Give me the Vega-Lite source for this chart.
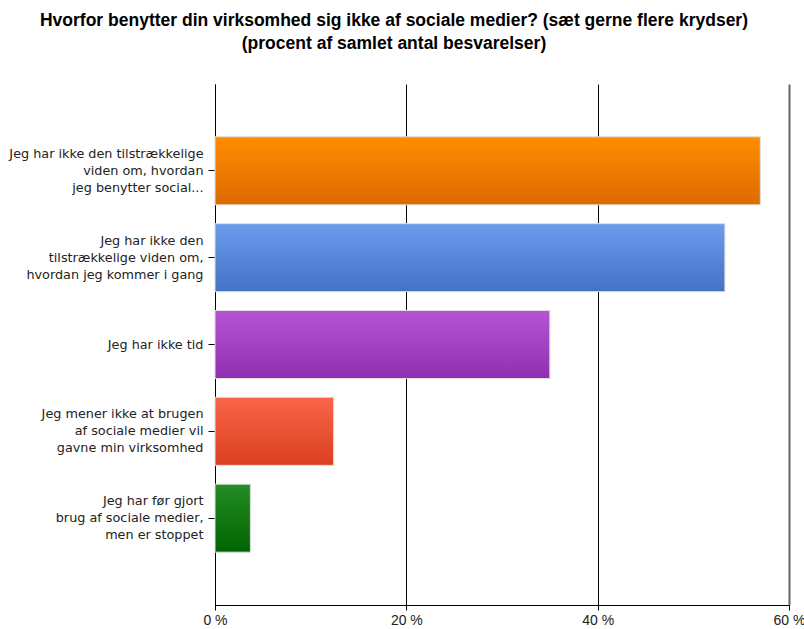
{
  "$schema": "https://vega.github.io/schema/vega-lite/v6.json",
  "autosize": "none",
  "width": 574,
  "height": 521,
  "padding": {"left": 215, "top": 84, "right": 15, "bottom": 24},
  "background": "white",
  "config": {"view": {"stroke": null}},
  "title": {
    "text": ["Hvorfor benytter din virksomhed sig ikke af sociale medier? (sæt gerne flere krydser)", "(procent af samlet antal besvarelser)"],
    "font": "Liberation Sans",
    "fontSize": 17.5,
    "fontWeight": "bold",
    "color": "#000",
    "anchor": "middle",
    "dx": -108,
    "offset": 32,
    "lineHeight": 23
  },
  "data": {
    "values": [
      {"cat": "Jeg har ikke den tilstrækkelige|viden om, hvordan|jeg benytter social...", "key": "a", "value": 57.0},
      {"cat": "Jeg har ikke den|tilstrækkelige viden om,|hvordan jeg kommer i gang", "key": "b", "value": 53.3},
      {"cat": "Jeg har ikke tid", "key": "c", "value": 35.0},
      {"cat": "Jeg mener ikke at brugen|af sociale medier vil|gavne min virksomhed", "key": "d", "value": 12.4},
      {"cat": "Jeg har før gjort|brug af sociale medier,|men er stoppet", "key": "e", "value": 3.7}
    ]
  },
  "encoding": {
    "y": {
      "field": "cat",
      "type": "nominal",
      "sort": null,
      "scale": {"paddingInner": 0.217, "paddingOuter": 0.6085},
      "axis": {
        "title": null,
        "labelExpr": "split(datum.value, '|')",
        "labelFont": "DejaVu Sans",
        "labelFontSize": 12.8,
        "labelColor": "#222",
        "labelLineHeight": 17,
        "labelPadding": 5,
        "labelLimit": 220,
        "labelOffset": {"condition": {"test": "indexof(datum.value, '|') >= 0", "value": -17}, "value": 0},
        "tickSize": 7,
        "tickWidth": 1,
        "tickColor": "#000",
        "tickOpacity": 1,
        "domainColor": "#000",
        "ticks": true
      }
    },
    "x": {
      "field": "value",
      "type": "quantitative",
      "scale": {"domain": [0, 60], "nice": false},
      "axis": {
        "title": null,
        "values": [0, 20, 40, 60],
        "labelExpr": "datum.value + ' %'",
        "labelFont": "Liberation Sans",
        "labelFontSize": 14,
        "labelColor": "#222",
        "labelPadding": 3,
        "labelFlush": false,
        "tickSize": 5,
        "tickColor": "#000",
        "domainColor": "#000",
        "grid": true,
        "gridColor": {"condition": {"test": "datum.value === 60", "value": "#666"}, "value": "#000"},
        "gridWidth": {"condition": {"test": "datum.value === 60", "value": 2}, "value": 1},
        "gridOpacity": 1
      }
    }
  },
  "layer": [
    {
      "transform": [{"filter": "datum.key === 'a'"}],
      "mark": {"type": "bar", "stroke": "#dddddd", "strokeWidth": 1,
        "fill": {"gradient": "linear", "x1": 0, "y1": 0, "x2": 0, "y2": 1, "stops": [{"offset": 0, "color": "#ff8c00"}, {"offset": 1, "color": "#dd6a00"}]}}
    },
    {
      "transform": [{"filter": "datum.key === 'b'"}],
      "mark": {"type": "bar", "stroke": "#dddddd", "strokeWidth": 1,
        "fill": {"gradient": "linear", "x1": 0, "y1": 0, "x2": 0, "y2": 1, "stops": [{"offset": 0, "color": "#6b9cec"}, {"offset": 1, "color": "#4472c6"}]}}
    },
    {
      "transform": [{"filter": "datum.key === 'c'"}],
      "mark": {"type": "bar", "stroke": "#dddddd", "strokeWidth": 1,
        "fill": {"gradient": "linear", "x1": 0, "y1": 0, "x2": 0, "y2": 1, "stops": [{"offset": 0, "color": "#b655d4"}, {"offset": 1, "color": "#9030b0"}]}}
    },
    {
      "transform": [{"filter": "datum.key === 'd'"}],
      "mark": {"type": "bar", "stroke": "#dddddd", "strokeWidth": 1,
        "fill": {"gradient": "linear", "x1": 0, "y1": 0, "x2": 0, "y2": 1, "stops": [{"offset": 0, "color": "#fa6448"}, {"offset": 1, "color": "#da4020"}]}}
    },
    {
      "transform": [{"filter": "datum.key === 'e'"}],
      "mark": {"type": "bar", "stroke": "#dddddd", "strokeWidth": 1,
        "fill": {"gradient": "linear", "x1": 0, "y1": 0, "x2": 0, "y2": 1, "stops": [{"offset": 0, "color": "#258d25"}, {"offset": 1, "color": "#006400"}]}}
    }
  ]
}
